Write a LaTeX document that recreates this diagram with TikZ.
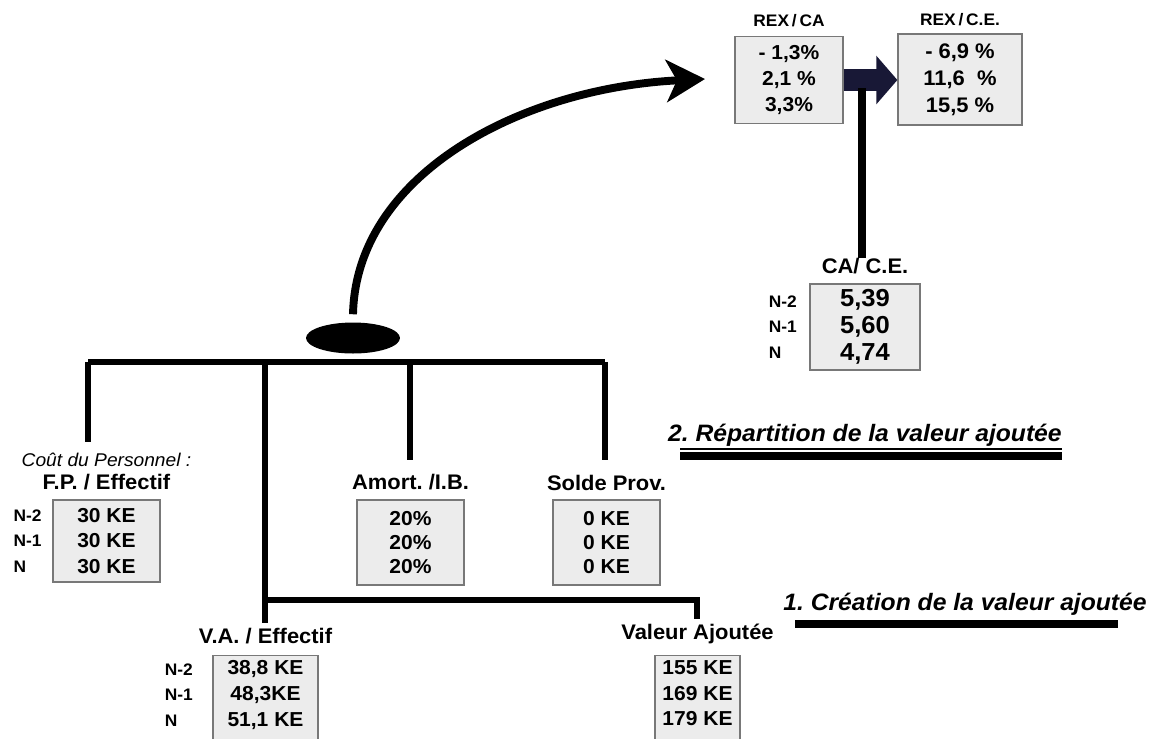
\documentclass[tikz,border=0pt]{standalone}
\usepackage{fontspec}
\setmainfont{Liberation Sans}[FakeStretch=1.04]
\usetikzlibrary{positioning,arrows.meta,shapes.geometric}

\definecolor{boxgray}{RGB}{236,236,236}
\definecolor{rimgray}{RGB}{120,120,120}
\definecolor{darknavy}{RGB}{24,24,54}

\tikzset{
  valbox/.style={draw=rimgray, fill=boxgray, line width=0.7pt, inner sep=0pt},
  vals/.style={align=center, inner sep=0pt, font=\bfseries\fontsize{11.5}{14.6}\selectfont},
  bigvals/.style={align=center, inner sep=0pt, font=\bfseries\fontsize{14}{15.4}\selectfont},
  years/.style={align=left, inner sep=0pt, font=\bfseries\fontsize{9.5}{14.6}\selectfont},
  head/.style={inner sep=0pt, font=\bfseries\fontsize{12}{14}\selectfont},
  smallhead/.style={inner sep=0pt, font=\bfseries\fontsize{9.5}{11}\selectfont},
  branch/.style={line width=3.3pt},
  secbar/.style={line width=4.5pt},
  section/.style={inner sep=0pt, font=\bfseries\itshape\fontsize{13.5}{15}\selectfont},
}

\begin{document}
\frenchspacing
\begin{tikzpicture}[x=0.02cm, y=-0.02cm]
\useasboundingbox (0,0) rectangle (1149,738);

% ratios, top right
\node[valbox, minimum width=2.16cm, minimum height=1.74cm] (rexca) at (789,80) {};
\node[vals] (rexcav) at (rexca) {- 1,3\%\\2,1 \%\\3,3\%};
\node[smallhead, above=5pt of rexca] (rexcal) {REX\,/\,CA};

\node[valbox, minimum width=2.48cm, minimum height=1.82cm] (rexce) at (960,79.5) {};
\node[vals, font=\bfseries\fontsize{12}{15.4}\selectfont] (rexcev) at (rexce) {- 6,9 \%\\11,6 \ \%\\15,5 \%};
\node[smallhead, above=4pt of rexce] (rexcel) {REX\,/\,C.E.};

\draw[darknavy, line width=12.5pt, -{Triangle[length=12pt, width=27pt]}] (rexca.east) -- (rexca.east -| rexce.west);

\node[valbox, minimum width=2.2cm, minimum height=1.72cm] (cace) at (865,327) {};
\node[bigvals] (cacev) at (cace) {5,39\\5,60\\4,74};
\node[head, above=5pt of cace] (cacel) {CA/ C.E.};
\node[years, left=7pt of cace] (caceyr) {N-2\\N-1\\N};

\coordinate (stemtop) at (862,88);
\draw[line width=4pt] (stemtop) -- (stemtop |- cacel.north);

% hub and sweep arrow
\node[fill, ellipse, minimum width=1.88cm, minimum height=0.62cm, inner sep=0pt] (hub) at (353,338) {};
\coordinate (sweeptip) at (705,79);
\draw[line width=4.5pt, -{Stealth[length=22pt, width=24pt, inset=6pt]}]
  ([yshift=4.5pt]hub.north) .. controls (356,175) and (520,88) .. (sweeptip);

% distribution bar
\coordinate (barL) at (88,362);
\coordinate (barR) at (605,362);
\coordinate (vatrunk) at (265,362);
\coordinate (amtrunk) at (410,362);
\draw[branch] (barL) -- (barR);

% personnel
\node[valbox, minimum width=2.14cm, minimum height=1.64cm] (fpbox) at (106.5,541) {};
\node[vals] (fpv) at (fpbox) {30 KE\\30 KE\\30 KE};
\node[head, above=5pt of fpbox] (fplabel) {F.P. / Effectif};
\node[inner sep=0pt, font=\itshape\fontsize{10.5}{12}\selectfont, above=4pt of fplabel] (fpcap) {Coût du Personnel :};
\node[years, left=6pt of fpbox] (fpyr) {N-2\\N-1\\N};
\draw[branch, shorten >=6pt] (barL) -- (barL |- fpcap.north);

% depreciation
\node[valbox, minimum width=2.14cm, minimum height=1.7cm] (ambox) at (410.5,542.5) {};
\node[vals, font=\bfseries\fontsize{11.5}{13.6}\selectfont] (amv) at (ambox) {20\%\\20\%\\20\%};
\node[head, above=5pt of ambox] (amlabel) {Amort. /I.B.};
\draw[branch, shorten >=8pt] (amtrunk) -- (amtrunk |- amlabel.north);

% provisions
\node[valbox, minimum width=2.14cm, minimum height=1.7cm] (spbox) at (606.5,542.5) {};
\node[vals, font=\bfseries\fontsize{11.5}{13.6}\selectfont] (spv) at (spbox) {0 KE\\0 KE\\0 KE};
\node[head, above=5pt of spbox] (splabel) {Solde Prov.};
\draw[branch, shorten >=8pt] (barR) -- (barR |- splabel.north);

% value added per head
\node[valbox, anchor=north, minimum width=2.1cm, minimum height=1.9cm] (vabox) at (265.5,655) {};
\node[vals, below=3pt of vabox.north] (vav) {38,8 KE\\48,3KE\\51,1 KE};
\node[head, above=6pt of vabox] (valabel) {V.A. / Effectif};
\node[years, anchor=east] (vayr) at ([xshift=-11pt]vabox.west |- vav) {N-2\\N-1\\N};
\draw[branch, shorten >=3pt] (vatrunk) -- (vatrunk |- valabel.north);

% value added
\node[valbox, anchor=north, minimum width=1.7cm, minimum height=1.9cm] (vabox2) at (697.5,655) {};
\node[vals, below=3pt of vabox2.north] (vav2) {155 KE\\169 KE\\179 KE};
\node[head, above=6pt of vabox2] (valabel2) {Valeur Ajoutée};
\coordinate (vajoin) at (265,600);
\coordinate (vacorner) at (697,600);
\draw[branch, shorten >=3pt] (vajoin) -- (vacorner) -- (vacorner |- valabel2.north);

% section titles
\node[section, anchor=base east] (reptitle) at (1062,441) {2. Répartition de la valeur ajoutée};
\draw[line width=0.8pt] (680,449) -- (1062,449);
\draw[secbar] (680,456) -- (1062,456);
\node[section, anchor=base east] (creatitle) at (1147,610) {1. Création de la valeur ajoutée};
\draw[secbar] (795,624) -- (1118,624);
\end{tikzpicture}
\end{document}
